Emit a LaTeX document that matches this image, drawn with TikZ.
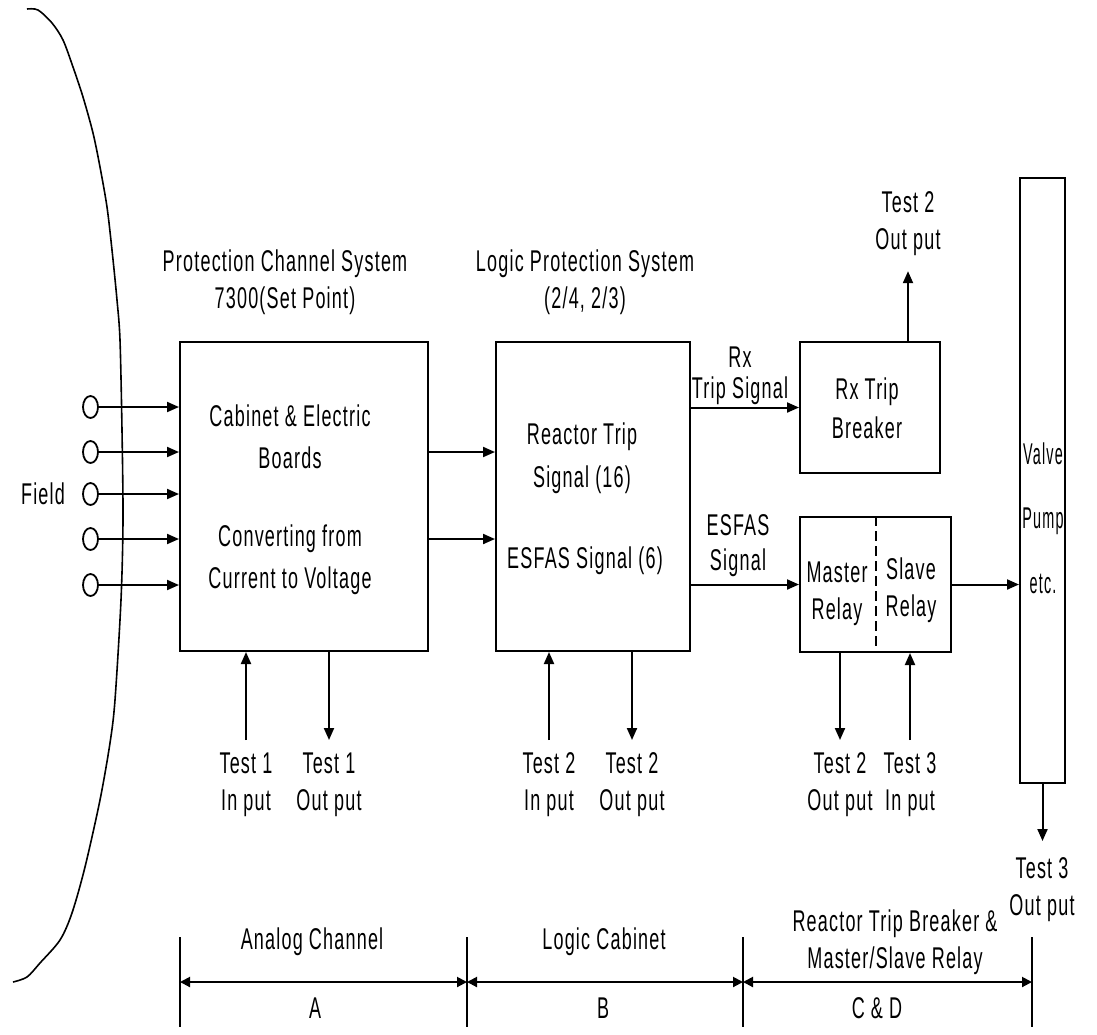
\documentclass[tikz,border=0pt]{standalone}
\usepackage{fontspec}
\setmainfont{Liberation Sans}[FakeStretch=0.6, LetterSpace=4]
\newfontfamily\narrowfont{Liberation Sans}[FakeStretch=0.48, LetterSpace=4]
\usetikzlibrary{arrows.meta,positioning,shapes.geometric}

\begin{document}
\begin{tikzpicture}[x=0.5pt, y=-0.5pt, >={Triangle[length=6pt,width=5pt]},
    line width=1pt,
    blk/.style={draw, line width=1pt, inner sep=0pt},
    port/.style={draw, ellipse, line width=0.9pt, minimum width=7.5pt, minimum height=11pt, inner sep=0pt},
    lbl/.style={font=\fontsize{15}{18.5}\selectfont, align=center, inner sep=0pt},
    vlbl/.style={lbl, font=\fontsize{15}{18.5}\narrowfont},
    sig/.style={->},
    dim/.style={{Triangle[length=5pt,width=5pt]}-{Triangle[length=5pt,width=5pt]}} ]

  \useasboundingbox (0,0) rectangle (1097,1034);

  % Field boundary
  \draw[line width=0.8pt] plot[smooth] coordinates {(27,9) (38,10) (52,23) (63,40)
    (73,67) (83,97) (93,133) (100,167) (107,207) (112,250) (117,300) (120,340)
    (122,430) (123,520) (121,600) (115,700) (110,743) (100,800) (85,867) (72,913)
    (60,940) (40,963) (27,977) (13,982)};
  \node[lbl] (field) at (43,494) {Field};

  % Blocks
  \node[blk, minimum width=124pt, minimum height=154.5pt] (pcs) at (304,496.5) {};
  \node[blk, minimum width=97pt, minimum height=154.5pt] (lps) at (593,496.5) {};
  \node[blk, minimum width=70pt, minimum height=65.5pt] (rtb) at (870,407.5) {};
  \node[blk, minimum width=75.5pt, minimum height=67.5pt] (msr) at (875.5,584.5) {};
  \node[blk, minimum width=22.5pt, minimum height=302.5pt] (vlv) at (1042.5,480.5) {};
  \draw[dashed, dash pattern=on 5pt off 2.5pt] (msr.north -| 876,0) -- (msr.south -| 876,0);

  % Titles
  \node[lbl, anchor=north] (pcst) at (285,249) {Protection Channel System\\7300(Set Point)};
  \node[lbl, anchor=north] (lpst) at (585,249) {Logic Protection System\\(2/4, 2/3)};

  % Texts in blocks
  \node[lbl, anchor=north] (cab) at (290,404) {Cabinet \& Electric\\[2.5pt]Boards};
  \node[lbl, anchor=north] (conv) at (290,524) {Converting from\\[2.5pt]Current to Voltage};
  \node[lbl, anchor=north] (rts) at (582,422) {Reactor Trip\\[3pt]Signal (16)};
  \node[lbl, anchor=north] (ess) at (585,546) {ESFAS Signal (6)};
  \node[lbl, anchor=north] (brk) at (867,377) {Rx Trip\\[1pt]Breaker};
  \node[lbl, anchor=north] (mst) at (837,561) {Master\\Relay};
  \node[lbl, anchor=north] (slv) at (911,557) {Slave\\Relay};
  \node[vlbl] (valve) at (1043,454) {Valve};
  \node[vlbl] (pump) at (1043,521) {Pump};
  \node[vlbl] (etc) at (1043,584) {etc.};

  % Field inputs
  \foreach \y [count=\i] in {407,452,494,539,585} {
    \node[port] (f\i) at (90.5,\y) {};
    \draw[sig] (f\i) -- (pcs.west |- f\i);
  }

  % Signals between blocks
  \draw[sig] (pcs.east |- 0,452) -- (lps.west |- 0,452);
  \draw[sig] (pcs.east |- 0,539) -- (lps.west |- 0,539);
  \draw[sig] (lps.east |- rtb.west) -- (rtb.west);
  \draw[sig] (lps.east |- msr.west) -- (msr.west);
  \draw[sig] (msr.east) -- (vlv.west |- msr.east);
  \node[lbl, anchor=north] (rxs) at (740,346) {Rx\\[-3pt]Trip Signal};
  \node[lbl, anchor=north] (ess2) at (738,514) {ESFAS\\[-1pt]Signal};

  % Test points
  \node[lbl, anchor=north] (t1i) at (246,752) {Test 1\\In put};
  \node[lbl, anchor=north] (t1o) at (329,752) {Test 1\\Out put};
  \node[lbl, anchor=north] (t2i) at (549,752) {Test 2\\In put};
  \node[lbl, anchor=north] (t2o) at (632,752) {Test 2\\Out put};
  \node[lbl, anchor=north] (t2r) at (840,752) {Test 2\\Out put};
  \node[lbl, anchor=north] (t3i) at (910,752) {Test 3\\In put};
  \node[lbl, anchor=north] (t2b) at (908,191) {Test 2\\Out put};
  \node[lbl, anchor=north] (t3o) at (1042,857) {Test 3\\Out put};

  \draw[sig] ([yshift=6pt]t1i.north) -- (t1i.north |- pcs.south);
  \draw[sig] (t1o.north |- pcs.south) -- ([yshift=6pt]t1o.north);
  \draw[sig] ([yshift=6pt]t2i.north) -- (t2i.north |- lps.south);
  \draw[sig] (t2o.north |- lps.south) -- ([yshift=6pt]t2o.north);
  \draw[sig] (t2r.north |- msr.south) -- ([yshift=6pt]t2r.north);
  \draw[sig] ([yshift=6pt]t3i.north) -- (t3i.north |- msr.south);
  \draw[sig] (t2b.south |- rtb.north) -- ([yshift=-7pt]t2b.south);
  \draw[sig] (vlv.south) -- ([yshift=8pt]t3o.north -| vlv.south);

  % Dimension line
  \foreach \x [count=\i from 0] in {180,467,743,1032} {
    \coordinate (d\i) at (\x,982);
    \draw (\x,937) -- (\x,1027);
  }
  \draw[dim] (d0) -- (d1);
  \draw[dim] (d1) -- (d2);
  \draw[dim] (d2) -- (d3);
  \node[lbl] (ana) at (312,942) {Analog Channel};
  \node[lbl] (lgc) at (604,942) {Logic Cabinet};
  \node[lbl, anchor=north] (rtbm) at (895,909) {Reactor Trip Breaker \&\\Master/Slave Relay};
  \node[lbl] (da) at (315,1008) {A};
  \node[lbl] (db) at (603,1008) {B};
  \node[lbl] (dc) at (877,1008) {C \& D};
\end{tikzpicture}
\end{document}
